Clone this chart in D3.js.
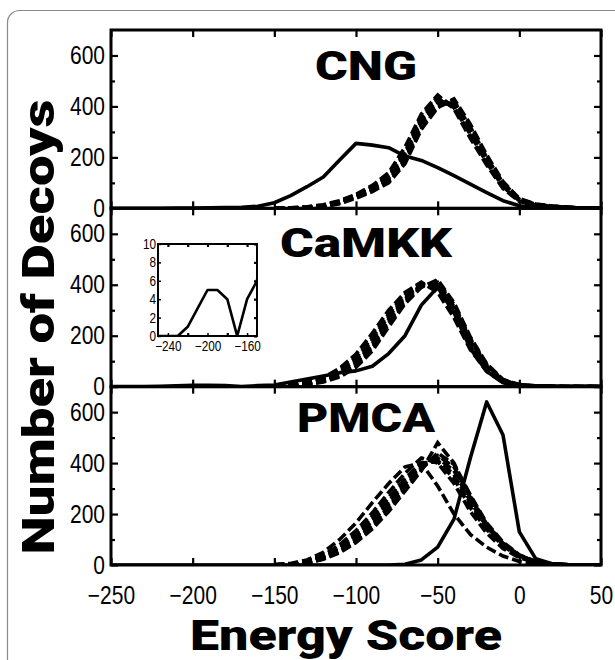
<!DOCTYPE html>
<html>
<head>
<meta charset="utf-8">
<script src="https://cdn.jsdelivr.net/npm/d3@7"></script>
<style>
  body { margin: 0; background: #fff; }
  svg { display: block; }
</style>
</head>
<body>
<script>
// energy score bins (x) for the native-structure curves
const energyBins = [-250,-240,-230,-220,-210,-200,-190,-180,-170,-160,-150,-140,-130,-120,-110,-100,-90,-80,-70,-60,-50,-40,-30,-20,-10,0,10,20,30,40,50];
// bins for the decoy (dashed) curves
const decoyBins = [-150,-140,-130,-120,-110,-100,-90,-80,-70,-60,-50,-40,-30,-20,-10,0,10,20,30,40,50];

const panelNames = ["CNG", "CaMKK", "PMCA"];

// solid curves
const cngNative   = [0,0,0,0,1,1,2,3,4,8,22,50,85,123,190,255,248,238,205,188,160,128,95,62,30,10,4,1,0,0,0];
const camkkNative = [0,0,0,1,3,5,5,4,0,4,6,18,30,42,55,62,80,130,200,320,390,290,150,60,15,3,1,0,0,0,0];
const pmcaNative  = [0,0,0,0,0,0,0,0,0,0,0,0,0,0,0,0,0,0,3,20,70,180,420,640,510,130,25,5,1,0,0];

// dashed curves
const cngDecoys = [
  [0,1,4,10,25,48,78,118,200,340,420,410,300,190,90,32,15,8,4,1,0],
  [0,2,5,12,28,52,85,130,220,360,440,400,285,175,80,28,13,7,3,1,0],
  [0,1,3,8,20,42,70,108,185,320,400,420,320,200,100,36,16,8,4,1,0],
  [0,1,4,11,26,50,82,125,215,350,430,395,290,180,85,30,14,7,3,1,0],
  [0,1,3,9,22,45,74,112,190,330,410,425,310,195,95,34,15,8,4,1,0],
  [0,2,6,14,30,55,90,140,240,370,445,390,275,170,78,27,12,6,3,1,0],
  [0,1,3,7,18,40,66,100,175,310,395,430,330,210,105,38,17,9,4,1,0],
  [0,1,4,10,24,47,80,122,205,345,425,405,295,185,88,31,14,7,3,1,0]
];
const camkkDecoys = [
  [2,5,12,25,50,95,170,265,345,400,395,300,170,75,22,6,2,1,0,0,0],
  [2,7,15,32,64,115,195,285,360,405,380,280,155,65,18,5,2,1,0,0,0],
  [1,4,10,22,44,84,155,250,335,395,410,315,185,85,26,7,2,1,0,0,0],
  [2,6,13,29,58,105,185,275,350,400,390,290,160,70,20,6,2,1,0,0,0],
  [1,3,8,18,38,76,140,235,325,390,420,330,195,90,28,8,3,1,0,0,0],
  [2,8,17,36,72,128,210,300,370,410,370,270,145,60,16,5,2,1,0,0,0],
  [2,5,11,24,48,90,162,258,340,398,402,308,178,80,24,7,2,1,0,0,0],
  [1,4,9,20,41,80,150,244,330,392,415,322,190,88,27,8,3,1,0,0,0]
];
const pmcaDecoys = [
  [1,3,10,30,65,110,170,240,320,390,420,370,250,150,80,35,12,4,1,0,0],
  [1,4,14,38,80,135,205,285,360,420,400,320,210,125,65,28,10,3,1,0,0],
  [0,2,8,24,52,92,150,220,300,375,440,395,275,165,90,40,14,5,1,0,0],
  [2,6,20,50,100,165,245,320,385,400,310,200,120,70,35,14,5,2,0,0,0],
  [0,2,7,22,48,88,142,210,290,370,480,400,270,160,85,38,13,4,1,0,0],
  [1,3,11,32,68,115,178,250,330,395,410,355,240,145,78,34,12,4,1,0,0],
  [0,2,9,26,56,98,158,228,310,380,430,385,265,160,86,38,13,4,1,0,0],
  [1,4,13,35,72,122,190,265,340,400,405,340,225,140,75,32,11,4,1,0,0]
];

// axis ticks
const xTicks = [-250,-200,-150,-100,-50,0,50];
const yMajor = [0,200,400,600];
const yMinor = [100,300,500];
const insetXTicks = [-240,-200,-160];
const insetXMinor = [-220,-180];
const insetYTicks = [0,2,4,6,8,10];

const panels = [
  { name: panelNames[0], native: cngNative, decoys: cngDecoys, titleY: 50, titleW: 102 },
  { name: panelNames[1], native: camkkNative, decoys: camkkDecoys, titleY: 49, titleW: 172 },
  { name: panelNames[2], native: pmcaNative, decoys: pmcaDecoys, titleY: 45, titleW: 138 }
];

const width = 615;
const height = 660;
const plotTop = 30;
const plotBottom = 565;
const panelH = (plotBottom - plotTop) / 3;
const left = 111, right = 601;

const tickFont = "'Liberation Sans', Arial, sans-serif";
const heavyFont = "Roboto, Inter, 'Liberation Sans', sans-serif";

const svg = d3.select("body").append("svg")
  .attr("width", width)
  .attr("height", height)
  .attr("viewBox", [0, 0, width, height]);

// outer rounded frame of the figure
svg.append("rect")
  .attr("x", 7.5).attr("y", 10.5)
  .attr("width", 720).attr("height", 720)
  .attr("rx", 12)
  .attr("fill", "none")
  .attr("stroke", "#8a8a8a")
  .attr("stroke-width", 1.2);

const x = d3.scaleLinear().domain([-250, 50]).range([left, right]);

panels.forEach((p, i) => {
  const top = plotTop + i * panelH;
  const bottom = top + panelH;
  const y = d3.scaleLinear().domain([0, 700]).range([bottom, top]);

  svg.append("clipPath").attr("id", `clip${i}`)
    .append("rect")
    .attr("x", left).attr("y", top)
    .attr("width", right - left).attr("height", panelH);

  const g = svg.append("g").attr("clip-path", `url(#clip${i})`);

  const decoyLine = d3.line().x((d, j) => x(decoyBins[j])).y(d => y(d));
  const nativeLine = d3.line().x((d, j) => x(energyBins[j])).y(d => y(d));

  g.selectAll(".decoy")
    .data(p.decoys)
    .enter()
    .append("path")
    .attr("class", "decoy")
    .attr("d", decoyLine)
    .attr("fill", "none")
    .attr("stroke", "#000")
    .attr("stroke-width", 3.6)
    .attr("stroke-dasharray", "10,4");

  g.append("path")
    .attr("d", nativeLine(p.native))
    .attr("fill", "none")
    .attr("stroke", "#000")
    .attr("stroke-width", 3.6)
    .attr("stroke-linejoin", "round");

  // left axis with labels
  svg.append("g").attr("class", "main-ax")
    .attr("transform", `translate(${left}, 0)`)
    .call(d3.axisLeft(y).tickValues(yMajor).tickSize(-7).tickPadding(6).tickFormat(d3.format("d")))
    .call(a => a.select(".domain").remove());
  svg.append("g")
    .attr("transform", `translate(${left}, 0)`)
    .call(d3.axisLeft(y).tickValues(yMinor).tickSize(-4).tickFormat(""))
    .call(a => a.select(".domain").remove());
  // right mirror ticks
  svg.append("g")
    .attr("transform", `translate(${right}, 0)`)
    .call(d3.axisRight(y).tickValues(yMajor).tickSize(-7).tickFormat(""))
    .call(a => a.select(".domain").remove());
  svg.append("g")
    .attr("transform", `translate(${right}, 0)`)
    .call(d3.axisRight(y).tickValues(yMinor).tickSize(-4).tickFormat(""))
    .call(a => a.select(".domain").remove());
  // top and bottom ticks
  svg.append("g")
    .attr("transform", `translate(0, ${top})`)
    .call(d3.axisTop(x).tickValues(xTicks).tickSize(-7).tickFormat(""))
    .call(a => a.select(".domain").remove());
  svg.append("g")
    .attr("class", i === 2 ? "main-ax" : "")
    .attr("transform", `translate(0, ${bottom})`)
    .call(d3.axisBottom(x).tickValues(xTicks).tickSize(-7).tickPadding(21)
      .tickFormat(i === 2 ? d3.format("d") : ""))
    .call(a => a.select(".domain").remove());

  // panel frame
  svg.append("rect")
    .attr("x", left).attr("y", top)
    .attr("width", right - left).attr("height", panelH)
    .attr("fill", "none")
    .attr("stroke", "#000")
    .attr("stroke-width", 3);

  svg.append("text")
    .attr("x", 366)
    .attr("y", top + p.titleY)
    .attr("text-anchor", "middle")
    .attr("font-family", heavyFont)
    .attr("font-weight", 900)
    .attr("font-size", 41)
    .attr("textLength", p.titleW)
    .attr("lengthAdjust", "spacingAndGlyphs")
    .text(p.name);

  // inset for CaMKK, zoom on the native tail
  if (i === 1) {
    const ix = d3.scaleLinear().domain([-250, -150]).range([158, 257]);
    const iy = d3.scaleLinear().domain([0, 10]).range([336, 244]);
    const ig = svg.append("g");
    ig.append("rect")
      .attr("x", 158).attr("y", 244).attr("width", 99).attr("height", 92)
      .attr("fill", "#fff");
    ig.append("clipPath").attr("id", "clipInset")
      .append("rect").attr("x", 158).attr("y", 244).attr("width", 99).attr("height", 92);
    ig.append("path")
      .attr("clip-path", "url(#clipInset)")
      .attr("d", d3.line().x((d, j) => ix(energyBins[j])).y(d => iy(d))(p.native.slice(0, 12)))
      .attr("fill", "none")
      .attr("stroke", "#000")
      .attr("stroke-width", 2.6)
      .attr("stroke-linejoin", "round");
    ig.append("g").attr("class", "inset-ax")
      .attr("transform", "translate(158, 0)")
      .call(d3.axisLeft(iy).tickValues(insetYTicks).tickSize(-3).tickPadding(2))
      .call(a => a.select(".domain").remove());
    ig.append("g")
      .attr("transform", "translate(257, 0)")
      .call(d3.axisRight(iy).tickValues(insetYTicks).tickSize(-3).tickFormat(""))
      .call(a => a.select(".domain").remove());
    ig.append("g").attr("class", "inset-ax")
      .attr("transform", "translate(0, 336)")
      .call(d3.axisBottom(ix).tickValues(insetXTicks).tickSize(-3).tickPadding(5).tickFormat(d3.format("d")))
      .call(a => a.select(".domain").remove());
    ig.append("g")
      .attr("transform", "translate(0, 336)")
      .call(d3.axisBottom(ix).tickValues(insetXMinor).tickSize(-3).tickFormat(""))
      .call(a => a.select(".domain").remove());
    ig.append("g")
      .attr("transform", "translate(0, 244)")
      .call(d3.axisTop(ix).tickValues(insetXTicks.concat(insetXMinor)).tickSize(-3).tickFormat(""))
      .call(a => a.select(".domain").remove());
    ig.append("rect")
      .attr("x", 158).attr("y", 244).attr("width", 99).attr("height", 92)
      .attr("fill", "none").attr("stroke", "#000").attr("stroke-width", 2);
  }
});

svg.selectAll(".tick line").attr("stroke", "#000").attr("stroke-width", 2.2);
svg.selectAll(".inset-ax .tick line").attr("stroke-width", 1.5);

// condensed look for the tick labels (narrow font is not installed)
svg.selectAll(".main-ax .tick text")
  .attr("fill", "#000")
  .attr("font-family", tickFont)
  .attr("font-size", 25);
svg.selectAll(".inset-ax .tick text")
  .attr("fill", "#000")
  .attr("font-family", tickFont)
  .attr("font-size", 14);
svg.selectAll(".main-ax .tick text, .inset-ax .tick text")
  .each(function() {
    const w = this.getComputedTextLength();
    d3.select(this)
      .attr("textLength", w * 0.84)
      .attr("lengthAdjust", "spacingAndGlyphs");
  });

// axis titles
svg.append("text")
  .attr("x", 190)
  .attr("y", 650)
  .attr("font-family", heavyFont)
  .attr("font-weight", 900)
  .attr("font-size", 42)
  .attr("textLength", 312)
  .attr("lengthAdjust", "spacingAndGlyphs")
  .text("Energy Score");

svg.append("text")
  .attr("transform", "translate(54, 327) rotate(-90)")
  .attr("text-anchor", "middle")
  .attr("font-family", heavyFont)
  .attr("font-weight", 900)
  .attr("font-size", 44)
  .attr("textLength", 455)
  .attr("lengthAdjust", "spacingAndGlyphs")
  .text("Number of Decoys");
</script>
</body>
</html>
